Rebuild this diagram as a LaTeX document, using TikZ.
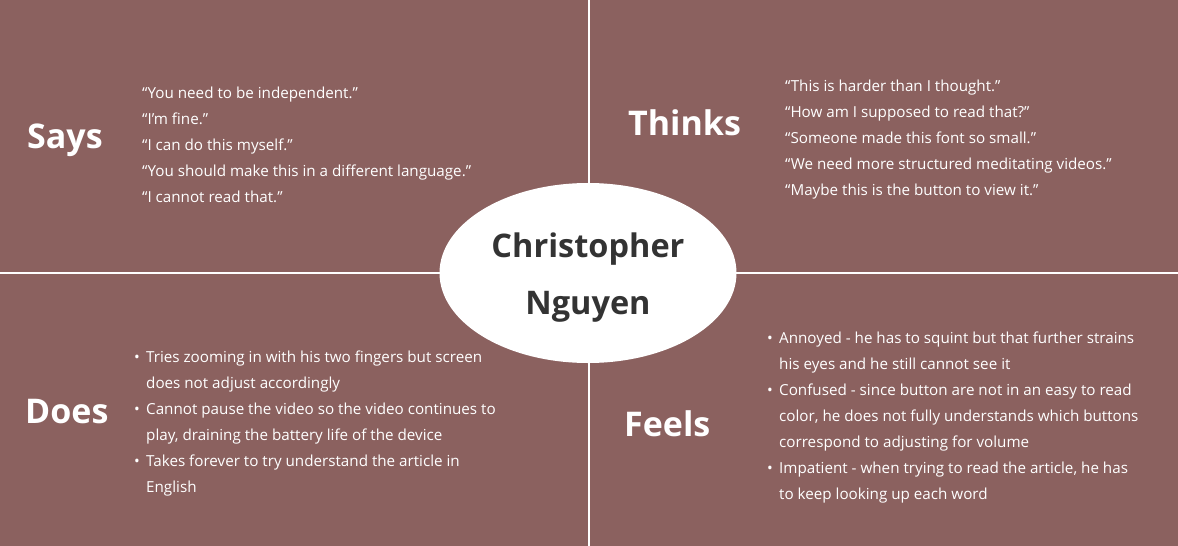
\documentclass[tikz,border=0pt]{standalone}
\usepackage{fontspec}
\setmainfont{Open Sans}
\usetikzlibrary{shapes.geometric}
\definecolor{mapbrown}{RGB}{139,97,95}
\definecolor{namegray}{RGB}{51,51,51}
\newcommand{\bul}{\makebox[12pt][l]{\textbullet}}
\newcommand{\cont}{\hspace*{12pt}}

\begin{document}
\begin{tikzpicture}[
  x=1pt,y=-1pt,
  heading/.style={text=white,font=\fontsize{34}{40}\selectfont\bfseries,
    anchor=base west,inner sep=0pt},
  quotes/.style={text=white,font=\fontsize{15.2}{26}\selectfont,align=left,
    anchor=base west,inner sep=0pt},
  divider/.style={white,line width=2.5pt},
  persona/.style={ellipse,fill=white,minimum width=297pt,minimum height=180pt,
    inner sep=0pt}
]
  \useasboundingbox (0,0) rectangle (1178,546);
  \fill[mapbrown] (0,0) rectangle (1178,546);
  \draw[divider] (589,0) -- (589,546);
  \draw[divider] (0,273) -- (1178,273);

  \node[persona] (persona) at (588,273) {};
  % base anchor sits on the last line
  \node[text=namegray,font=\fontsize{32.5}{57}\selectfont\bfseries,align=center,
    anchor=base,inner sep=0pt] (name) at (588,314) {Christopher\\Nguyen};

  % quadrant headings
  \node[heading] (says) at (27,148) {Says};
  \node[heading] (thinks) at (628,135) {Thinks};
  \node[heading] (does) at (25,423) {Does};
  \node[heading] (feels) at (624,436) {Feels};

  % quadrant texts
  \node[quotes] (saystxt) at (142,202) {“You need to be independent.”\\
    “I’m fine.”\\
    “I can do this myself.”\\
    “You should make this in a different language.”\\
    “I cannot read that.”};
  \node[quotes] (thinkstxt) at (785,195) {“This is harder than I thought.”\\
    “How am I supposed to read that?”\\
    “Someone made this font so small.”\\
    “We need more structured meditating videos.”\\
    “Maybe this is the button to view it.”};
  \node[quotes] (doestxt) at (134,492) {\bul Tries zooming in with his two fingers but screen\\
    \cont does not adjust accordingly\\
    \bul Cannot pause the video so the video continues to\\
    \cont play, draining the battery life of the device\\
    \bul Takes forever to try understand the article in\\
    \cont English};
  \node[quotes] (feelstxt) at (767,499) {\bul Annoyed - he has to squint but that further strains\\
    \cont his eyes and he still cannot see it\\
    \bul Confused - since button are not in an easy to read\\
    \cont color, he does not fully understands which buttons\\
    \cont correspond to adjusting for volume\\
    \bul Impatient - when trying to read the article, he has\\
    \cont to keep looking up each word};
\end{tikzpicture}
\end{document}
